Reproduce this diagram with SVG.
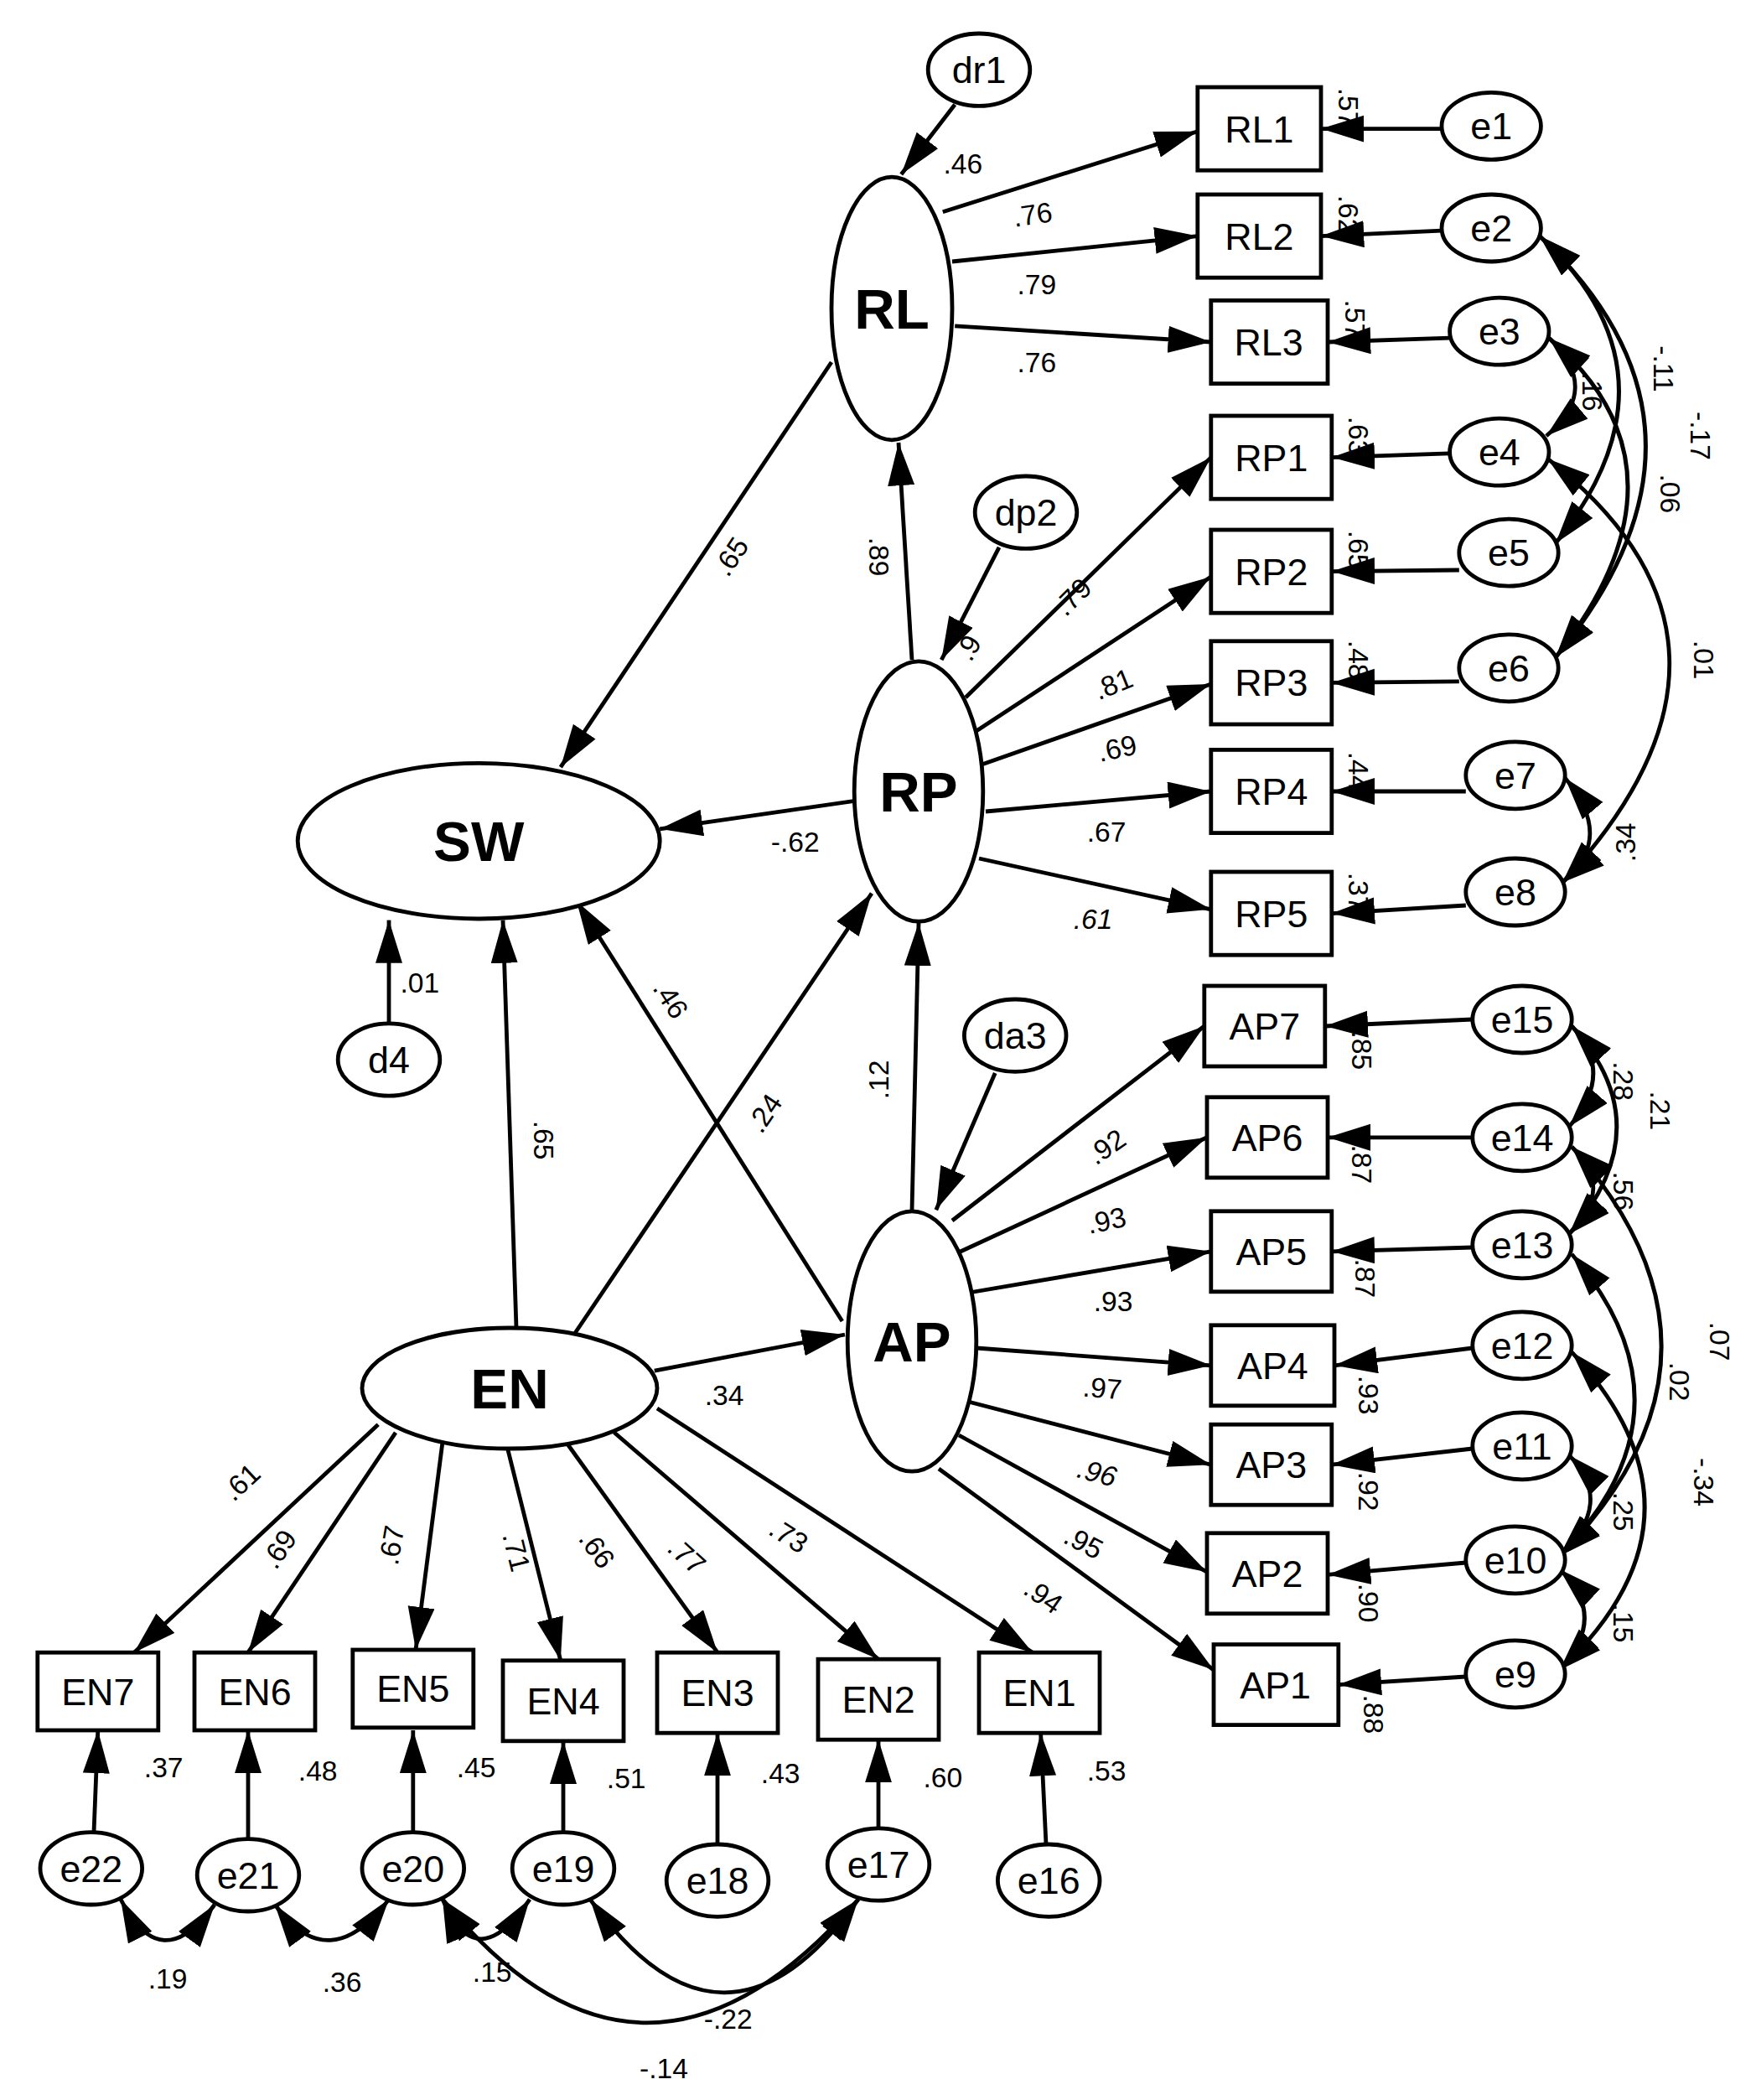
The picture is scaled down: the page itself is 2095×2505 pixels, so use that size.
<svg xmlns="http://www.w3.org/2000/svg" width="2095" height="2505" viewBox="0 0 2095 2505">
<style>
.n ellipse,.n rect{fill:#fff;stroke:#000;stroke-width:3}
.t{font-family:"Liberation Sans",Arial,sans-serif;font-size:28px;text-anchor:middle;dominant-baseline:central}
.b{font-family:"Liberation Sans",Arial,sans-serif;font-size:42px;font-weight:bold;text-anchor:middle;dominant-baseline:central}
.c path,.c line{fill:none;stroke:#000;stroke-width:3;marker-end:url(#a)}
.c .d{marker-start:url(#a)}
.l text{font-family:"Liberation Sans",Arial,sans-serif;font-size:21px;text-anchor:middle;dominant-baseline:central}
</style>
<defs>
<marker id="a" markerUnits="userSpaceOnUse" markerWidth="34" markerHeight="22" refX="32" refY="10" orient="auto-start-reverse"><path d="M0,0L32,10L0,20z" fill="#000"/></marker>
</defs>
<rect width="2095" height="2505" fill="#fff"/>
<g transform="scale(1.6)">
<g class="c" id="connectors">
<line x1="703" y1="158" x2="893" y2="98"/>
<line x1="710" y1="195" x2="893" y2="176"/>
<line x1="712" y1="243" x2="903" y2="255"/>
<line x1="720" y1="520" x2="903" y2="341"/>
<line x1="728" y1="545" x2="903" y2="430"/>
<line x1="732" y1="570" x2="903" y2="510"/>
<line x1="735" y1="605" x2="903" y2="590"/>
<line x1="730" y1="640" x2="903" y2="678"/>
<line x1="710" y1="910" x2="898" y2="765"/>
<line x1="712" y1="935" x2="900" y2="848"/>
<line x1="715" y1="965" x2="903" y2="933"/>
<line x1="728" y1="1005" x2="903" y2="1018"/>
<line x1="722" y1="1045" x2="903" y2="1092"/>
<line x1="715" y1="1070" x2="900" y2="1172"/>
<line x1="700" y1="1095" x2="905" y2="1245"/>
<line x1="1075" y1="96" x2="985" y2="96"/>
<line x1="1075" y1="172" x2="985" y2="176"/>
<line x1="1081" y1="252" x2="990" y2="255"/>
<line x1="1081" y1="338" x2="993" y2="341"/>
<line x1="1088" y1="425" x2="993" y2="426"/>
<line x1="1088" y1="508" x2="993" y2="509"/>
<line x1="1093" y1="590" x2="993" y2="590"/>
<line x1="1093" y1="675" x2="993" y2="681"/>
<line x1="1098" y1="760" x2="988" y2="765"/>
<line x1="1098" y1="848" x2="990" y2="848"/>
<line x1="1098" y1="930" x2="993" y2="933"/>
<line x1="1098" y1="1005" x2="995" y2="1018"/>
<line x1="1098" y1="1080" x2="993" y2="1092"/>
<line x1="1093" y1="1165" x2="990" y2="1174"/>
<line x1="1093" y1="1250" x2="998" y2="1256"/>
<line x1="712" y1="78" x2="672" y2="130"/>
<line x1="745" y1="408" x2="702" y2="492"/>
<line x1="742" y1="800" x2="698" y2="902"/>
<line x1="620" y1="270" x2="418" y2="572"/>
<line x1="638" y1="597" x2="492" y2="618"/>
<line x1="680" y1="492" x2="670" y2="330"/>
<line x1="680" y1="902" x2="685" y2="688"/>
<line x1="385" y1="990" x2="375" y2="686"/>
<line x1="428" y1="995" x2="650" y2="666"/>
<line x1="628" y1="985" x2="430" y2="672"/>
<line x1="488" y1="1022" x2="630" y2="995"/>
<line x1="290" y1="762" x2="290" y2="686"/>
<line x1="282" y1="1062" x2="100" y2="1232"/>
<line x1="295" y1="1068" x2="185" y2="1232"/>
<line x1="330" y1="1075" x2="310" y2="1230"/>
<line x1="378" y1="1078" x2="418" y2="1238"/>
<line x1="422" y1="1075" x2="535" y2="1232"/>
<line x1="458" y1="1068" x2="655" y2="1237"/>
<line x1="490" y1="1050" x2="770" y2="1232"/>
<line x1="70" y1="1366" x2="73" y2="1290"/>
<line x1="185" y1="1371" x2="185" y2="1290"/>
<line x1="308" y1="1366" x2="308" y2="1290"/>
<line x1="420" y1="1366" x2="420" y2="1298"/>
<line x1="535" y1="1375" x2="535" y2="1292"/>
<line x1="655" y1="1363" x2="655" y2="1297"/>
<line x1="780" y1="1375" x2="776" y2="1292"/>
<path class="d" d="M1148,176 Q1260,280 1160,405"/>
<path class="d" d="M1148,176 Q1300,320 1160,490"/>
<path class="d" d="M1155,252 Q1195,290 1153,325"/>
<path class="d" d="M1155,252 Q1270,350 1160,490"/>
<path class="d" d="M1154,342 Q1330,480 1165,658"/>
<path class="d" d="M1167,580 Q1205,625 1165,658"/>
<path class="d" d="M1172,765 Q1205,800 1170,840"/>
<path class="d" d="M1172,765 Q1240,840 1170,920"/>
<path class="d" d="M1172,855 Q1205,885 1170,920"/>
<path class="d" d="M1172,855 Q1310,1010 1163,1160"/>
<path class="d" d="M1172,935 Q1270,1050 1163,1160"/>
<path class="d" d="M1172,1008 Q1285,1130 1163,1245"/>
<path class="d" d="M1170,1085 Q1205,1120 1163,1160"/>
<path class="d" d="M1163,1170 Q1200,1205 1163,1245"/>
<path class="d" d="M90,1416 Q120,1475 160,1420"/>
<path class="d" d="M205,1420 Q245,1475 290,1416"/>
<path class="d" d="M330,1416 Q355,1475 395,1416"/>
<path class="d" d="M440,1416 Q540,1555 640,1416"/>
<path class="d" d="M330,1416 Q480,1600 640,1416"/>
</g>
<g class="n" id="latents">
<g id="SW"><ellipse cx="357" cy="627" rx="135" ry="58"/><text class="b" x="357" y="627">SW</text></g>
<g id="RL"><ellipse cx="665" cy="230" rx="45" ry="98"/><text class="b" x="665" y="230">RL</text></g>
<g id="RP"><ellipse cx="685" cy="590" rx="48" ry="97"/><text class="b" x="685" y="590">RP</text></g>
<g id="AP"><ellipse cx="680" cy="1000" rx="48" ry="97"/><text class="b" x="680" y="1000">AP</text></g>
<g id="EN"><ellipse cx="380" cy="1035" rx="110" ry="45"/><text class="b" x="380" y="1035">EN</text></g>
<g id="dr1"><ellipse cx="730" cy="52" rx="38" ry="27"/><text class="t" x="730" y="52">dr1</text></g>
<g id="dp2"><ellipse cx="765" cy="382" rx="38" ry="27"/><text class="t" x="765" y="382">dp2</text></g>
<g id="da3"><ellipse cx="757" cy="772" rx="38" ry="27"/><text class="t" x="757" y="772">da3</text></g>
<g id="d4"><ellipse cx="290" cy="790" rx="38" ry="27"/><text class="t" x="290" y="790">d4</text></g>
</g>
<g class="n" id="boxes">
<g id="RL1"><rect x="893" y="65" width="92" height="62"/><text class="t" x="939" y="96">RL1</text></g>
<g id="RL2"><rect x="893" y="145" width="92" height="62"/><text class="t" x="939" y="176">RL2</text></g>
<g id="RL3"><rect x="903" y="224" width="87" height="62"/><text class="t" x="946" y="255">RL3</text></g>
<g id="RP1"><rect x="903" y="310" width="90" height="62"/><text class="t" x="948" y="341">RP1</text></g>
<g id="RP2"><rect x="903" y="395" width="90" height="62"/><text class="t" x="948" y="426">RP2</text></g>
<g id="RP3"><rect x="903" y="478" width="90" height="62"/><text class="t" x="948" y="509">RP3</text></g>
<g id="RP4"><rect x="903" y="559" width="90" height="62"/><text class="t" x="948" y="590">RP4</text></g>
<g id="RP5"><rect x="903" y="650" width="90" height="62"/><text class="t" x="948" y="681">RP5</text></g>
<g id="AP7"><rect x="898" y="735" width="90" height="60"/><text class="t" x="943" y="765">AP7</text></g>
<g id="AP6"><rect x="900" y="818" width="90" height="60"/><text class="t" x="945" y="848">AP6</text></g>
<g id="AP5"><rect x="903" y="903" width="90" height="60"/><text class="t" x="948" y="933">AP5</text></g>
<g id="AP4"><rect x="903" y="988" width="92" height="60"/><text class="t" x="949" y="1018">AP4</text></g>
<g id="AP3"><rect x="903" y="1062" width="90" height="60"/><text class="t" x="948" y="1092">AP3</text></g>
<g id="AP2"><rect x="900" y="1143" width="90" height="60"/><text class="t" x="945" y="1173">AP2</text></g>
<g id="AP1"><rect x="905" y="1226" width="93" height="60"/><text class="t" x="951" y="1256">AP1</text></g>
<g id="EN7"><rect x="28" y="1232" width="90" height="58"/><text class="t" x="73" y="1261">EN7</text></g>
<g id="EN6"><rect x="145" y="1232" width="90" height="58"/><text class="t" x="190" y="1261">EN6</text></g>
<g id="EN5"><rect x="263" y="1230" width="90" height="58"/><text class="t" x="308" y="1259">EN5</text></g>
<g id="EN4"><rect x="375" y="1238" width="90" height="60"/><text class="t" x="420" y="1268">EN4</text></g>
<g id="EN3"><rect x="490" y="1232" width="90" height="60"/><text class="t" x="535" y="1262">EN3</text></g>
<g id="EN2"><rect x="610" y="1237" width="90" height="60"/><text class="t" x="655" y="1267">EN2</text></g>
<g id="EN1"><rect x="730" y="1232" width="90" height="60"/><text class="t" x="775" y="1262">EN1</text></g>
</g>
<g class="n" id="errors">
<g id="e1"><ellipse cx="1112" cy="94" rx="37" ry="25"/><text class="t" x="1112" y="94">e1</text></g>
<g id="e2"><ellipse cx="1112" cy="170" rx="37" ry="25"/><text class="t" x="1112" y="170">e2</text></g>
<g id="e3"><ellipse cx="1118" cy="247" rx="37" ry="25"/><text class="t" x="1118" y="247">e3</text></g>
<g id="e4"><ellipse cx="1118" cy="337" rx="37" ry="25"/><text class="t" x="1118" y="337">e4</text></g>
<g id="e5"><ellipse cx="1125" cy="412" rx="37" ry="25"/><text class="t" x="1125" y="412">e5</text></g>
<g id="e6"><ellipse cx="1125" cy="498" rx="37" ry="25"/><text class="t" x="1125" y="498">e6</text></g>
<g id="e7"><ellipse cx="1130" cy="578" rx="37" ry="25"/><text class="t" x="1130" y="578">e7</text></g>
<g id="e8"><ellipse cx="1130" cy="665" rx="37" ry="25"/><text class="t" x="1130" y="665">e8</text></g>
<g id="e15"><ellipse cx="1135" cy="760" rx="37" ry="25"/><text class="t" x="1135" y="760">e15</text></g>
<g id="e14"><ellipse cx="1135" cy="848" rx="37" ry="25"/><text class="t" x="1135" y="848">e14</text></g>
<g id="e13"><ellipse cx="1135" cy="928" rx="37" ry="25"/><text class="t" x="1135" y="928">e13</text></g>
<g id="e12"><ellipse cx="1135" cy="1003" rx="37" ry="25"/><text class="t" x="1135" y="1003">e12</text></g>
<g id="e11"><ellipse cx="1135" cy="1078" rx="37" ry="25"/><text class="t" x="1135" y="1078">e11</text></g>
<g id="e10"><ellipse cx="1130" cy="1163" rx="37" ry="25"/><text class="t" x="1130" y="1163">e10</text></g>
<g id="e9"><ellipse cx="1130" cy="1248" rx="37" ry="25"/><text class="t" x="1130" y="1248">e9</text></g>
<g id="e22"><ellipse cx="68" cy="1393" rx="38" ry="27"/><text class="t" x="68" y="1393">e22</text></g>
<g id="e21"><ellipse cx="185" cy="1398" rx="38" ry="27"/><text class="t" x="185" y="1398">e21</text></g>
<g id="e20"><ellipse cx="308" cy="1393" rx="38" ry="27"/><text class="t" x="308" y="1393">e20</text></g>
<g id="e19"><ellipse cx="420" cy="1393" rx="38" ry="27"/><text class="t" x="420" y="1393">e19</text></g>
<g id="e18"><ellipse cx="535" cy="1402" rx="38" ry="27"/><text class="t" x="535" y="1402">e18</text></g>
<g id="e17"><ellipse cx="655" cy="1390" rx="38" ry="27"/><text class="t" x="655" y="1390">e17</text></g>
<g id="e16"><ellipse cx="782" cy="1402" rx="38" ry="27"/><text class="t" x="782" y="1402">e16</text></g>
</g>
<g class="l" id="labels">
<text x="718" y="122">.46</text>
<text x="545" y="415" transform="rotate(-56 545 415)">.65</text>
<text x="655" y="415" transform="rotate(90 655 415)">.89</text>
<text x="722" y="483" transform="rotate(-60 722 483)">.9</text>
<text x="770" y="160" transform="rotate(-8 770 160)">.76</text>
<text x="773" y="212">.79</text>
<text x="773" y="270">.76</text>
<text x="800" y="445" transform="rotate(-45 800 445)">.79</text>
<text x="830" y="510" transform="rotate(-22 830 510)">.81</text>
<text x="833" y="558" transform="rotate(-12 833 558)">.69</text>
<text x="825" y="620">.67</text>
<text x="815" y="685" font-style="italic">.61</text>
<text x="593" y="628">-.62</text>
<text x="313" y="733">.01</text>
<text x="500" y="745" transform="rotate(57 500 745)">.46</text>
<text x="570" y="830" transform="rotate(-56 570 830)">.24</text>
<text x="405" y="850" transform="rotate(90 405 850)">.65</text>
<text x="655" y="805" transform="rotate(-90 655 805)">.12</text>
<text x="540" y="1040">.34</text>
<text x="825" y="855" transform="rotate(-35 825 855)">.92</text>
<text x="825" y="910" transform="rotate(-12 825 910)">.93</text>
<text x="830" y="970">.93</text>
<text x="822" y="1035" transform="rotate(5 822 1035)">.97</text>
<text x="818" y="1098" transform="rotate(15 818 1098)" font-style="italic">.96</text>
<text x="808" y="1150" transform="rotate(28 808 1150)">.95</text>
<text x="778" y="1190" transform="rotate(35 778 1190)">.94</text>
<text x="180" y="1105" transform="rotate(-43 180 1105)">.61</text>
<text x="208" y="1155" transform="rotate(-56 208 1155)">.69</text>
<text x="292" y="1152" transform="rotate(-80 292 1152)">.67</text>
<text x="385" y="1157" transform="rotate(76 385 1157)">.71</text>
<text x="445" y="1155" transform="rotate(54 445 1155)">.66</text>
<text x="512" y="1160" transform="rotate(42 512 1160)">.77</text>
<text x="588" y="1145" transform="rotate(32 588 1145)">.73</text>
<text x="122" y="1318">.37</text>
<text x="237" y="1320">.48</text>
<text x="355" y="1318">.45</text>
<text x="467" y="1326">.51</text>
<text x="582" y="1322">.43</text>
<text x="703" y="1325">.60</text>
<text x="825" y="1320">.53</text>
<text x="125" y="1475">.19</text>
<text x="255" y="1478">.36</text>
<text x="367" y="1470">.15</text>
<text x="543" y="1505">-.22</text>
<text x="495" y="1542">-.14</text>
<text x="1005" y="80" transform="rotate(90 1005 80)">.57</text>
<text x="1005" y="160" transform="rotate(90 1005 160)">.62</text>
<text x="1010" y="238" transform="rotate(90 1010 238)">.57</text>
<text x="1013" y="325" transform="rotate(90 1013 325)">.63</text>
<text x="1013" y="410" transform="rotate(90 1013 410)">.65</text>
<text x="1013" y="492" transform="rotate(90 1013 492)">.48</text>
<text x="1013" y="575" transform="rotate(90 1013 575)">.44</text>
<text x="1013" y="665" transform="rotate(90 1013 665)">.37</text>
<text x="1015" y="783" transform="rotate(90 1015 783)">.85</text>
<text x="1015" y="868" transform="rotate(90 1015 868)">.87</text>
<text x="1018" y="953" transform="rotate(90 1018 953)">.87</text>
<text x="1020" y="1040" transform="rotate(90 1020 1040)">.93</text>
<text x="1020" y="1112" transform="rotate(90 1020 1112)">.92</text>
<text x="1020" y="1195" transform="rotate(90 1020 1195)">.90</text>
<text x="1024" y="1278" transform="rotate(90 1024 1278)">.88</text>
<text x="1187" y="292" transform="rotate(90 1187 292)">.16</text>
<text x="1240" y="275" transform="rotate(90 1240 275)">-.11</text>
<text x="1268" y="325" transform="rotate(90 1268 325)">-.17</text>
<text x="1245" y="368" transform="rotate(90 1245 368)">.06</text>
<text x="1270" y="492" transform="rotate(90 1270 492)">.01</text>
<text x="1212" y="628" transform="rotate(-90 1212 628)">.34</text>
<text x="1210" y="806" transform="rotate(90 1210 806)">.28</text>
<text x="1238" y="828" transform="rotate(90 1238 828)">.21</text>
<text x="1210" y="888" transform="rotate(90 1210 888)">.56</text>
<text x="1282" y="1000" transform="rotate(90 1282 1000)">.07</text>
<text x="1252" y="1030" transform="rotate(90 1252 1030)">.02</text>
<text x="1270" y="1105" transform="rotate(90 1270 1105)">-.34</text>
<text x="1210" y="1127" transform="rotate(90 1210 1127)">.25</text>
<text x="1210" y="1210" transform="rotate(90 1210 1210)">.15</text>
</g>
</g>
</svg>
